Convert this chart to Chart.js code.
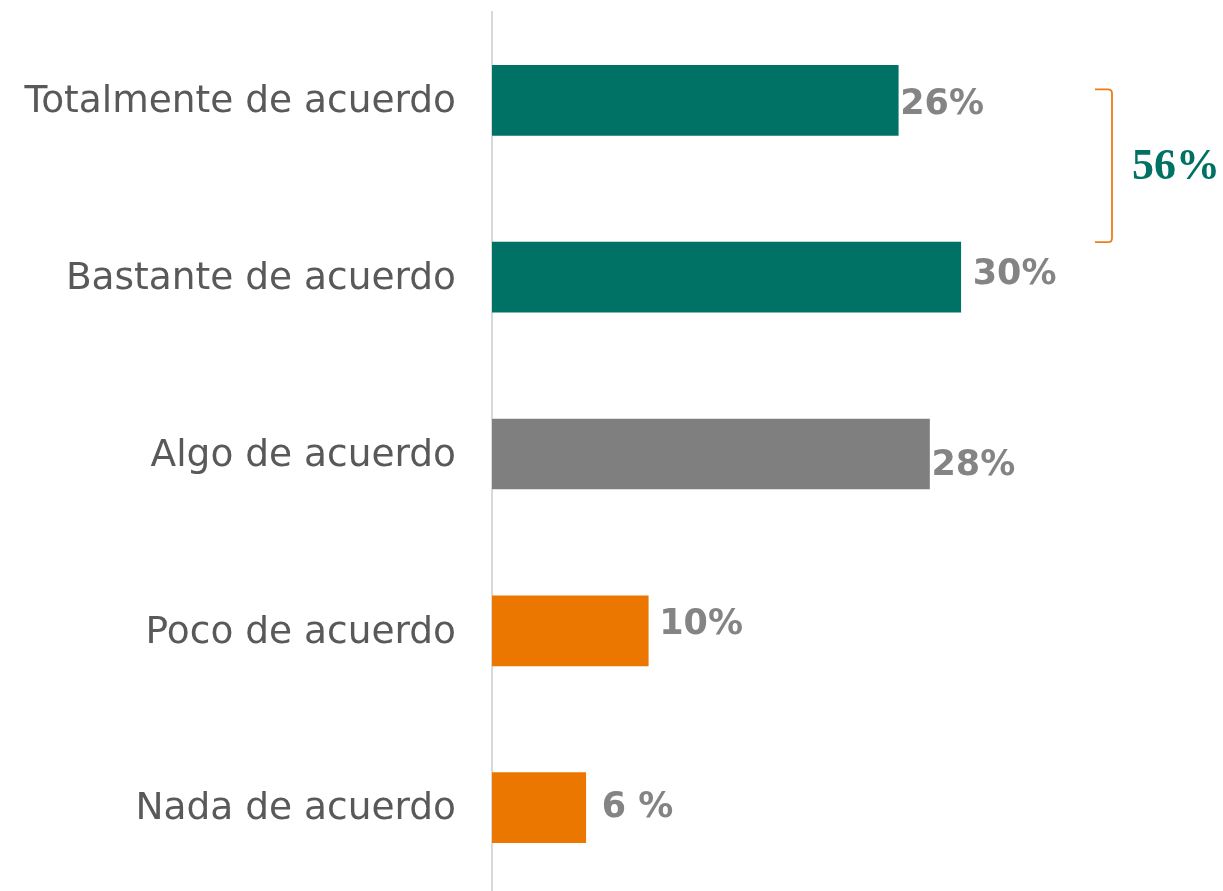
<!DOCTYPE html>
<html>
<head>
<meta charset="utf-8">
<script src="https://cdn.jsdelivr.net/npm/chart.js@4.4.1/dist/chart.umd.min.js"></script>
<style>
  html, body { margin: 0; padding: 0; background: #fff; overflow: hidden; }
  #wrap { position: relative; width: 1223px; height: 896px; }
</style>
</head>
<body>
<div id="wrap"><canvas id="chart"></canvas></div>
<script>
// Chart data
const categories = [
    'Totalmente de acuerdo',
    'Bastante de acuerdo',
    'Algo de acuerdo',
    'Poco de acuerdo',
    'Nada de acuerdo'
];
const values = [26, 30, 28, 10, 6];
const valueLabels = ['26%', '30%', '28%', '10%', '6 %'];
const barColors = ['#007165', '#007165', '#7f7f7f', '#eb7700', '#eb7700'];
// hand-placed label nudges, as in the original slide [dx, dy]
const labelNudge = [[2, 5], [12, -2], [2, 12], [11, -6], [16, 0]];
const groupTotal = '56%';

// value labels at the end of each bar
const valueLabelPlugin = {
    id: 'valueLabels',
    afterDatasetsDraw(chart) {
        const ctx = chart.ctx;
        const meta = chart.getDatasetMeta(0);
        ctx.save();
        ctx.font = 'bold 35px "DejaVu Sans", Verdana, sans-serif';
        ctx.fillStyle = '#848484';
        ctx.textAlign = 'left';
        ctx.textBaseline = 'middle';
        meta.data.forEach((bar, i) => {
            const nudge = labelNudge[i];
            ctx.fillText(valueLabels[i], bar.x + nudge[0], bar.y + nudge[1]);
        });
        ctx.restore();
    }
};

// orange bracket grouping the two top bars, with total
const bracketPlugin = {
    id: 'bracket',
    afterDraw(chart) {
        const ctx = chart.ctx;
        const y = chart.scales.y;
        const top = y.getPixelForValue(0) - 11;
        const bottom = y.getPixelForValue(1) - 35;
        const xLine = 1112;
        const xStart = 1095;
        const r = 4;
        ctx.save();
        ctx.strokeStyle = '#ed7d16';
        ctx.lineWidth = 1.8;
        ctx.beginPath();
        ctx.moveTo(xStart, top);
        ctx.lineTo(xLine - r, top);
        ctx.quadraticCurveTo(xLine, top, xLine, top + r);
        ctx.lineTo(xLine, bottom - r);
        ctx.quadraticCurveTo(xLine, bottom, xLine - r, bottom);
        ctx.lineTo(xStart, bottom);
        ctx.stroke();

        ctx.font = 'bold 44px "Liberation Serif", "Times New Roman", serif';
        ctx.fillStyle = '#007165';
        ctx.textAlign = 'left';
        ctx.textBaseline = 'middle';
        ctx.fillText(groupTotal, 1132, (top + bottom) / 2 + 2);
        ctx.restore();
    }
};

const ctx = document.getElementById('chart').getContext('2d');
new Chart(ctx, {
    type: 'bar',
    data: {
        labels: categories,
        datasets: [{
            data: values,
            backgroundColor: barColors,
            borderWidth: 0,
            barThickness: 70
        }]
    },
    options: {
        indexAxis: 'y',
        responsive: true,
        maintainAspectRatio: false,
        animation: false,
        layout: {
            padding: { top: 12, right: 106, bottom: 0, left: 0 }
        },
        scales: {
            x: {
                display: false,
                min: 0,
                max: 40
            },
            y: {
                afterFit(scale) {
                    scale.width = 492;
                    scale.paddingTop = 0;
                    scale.paddingBottom = 0;
                },
                grid: { display: false, drawTicks: false },
                border: { display: true, color: '#d9d9d9', width: 2 },
                ticks: {
                    padding: 36,
                    labelOffset: 2,
                    color: '#595959',
                    font: { family: '"DejaVu Sans", Verdana, sans-serif', size: 37.5 }
                }
            }
        },
        plugins: {
            legend: { display: false },
            tooltip: { enabled: false }
        }
    },
    plugins: [valueLabelPlugin, bracketPlugin]
});
</script>
</body>
</html>
